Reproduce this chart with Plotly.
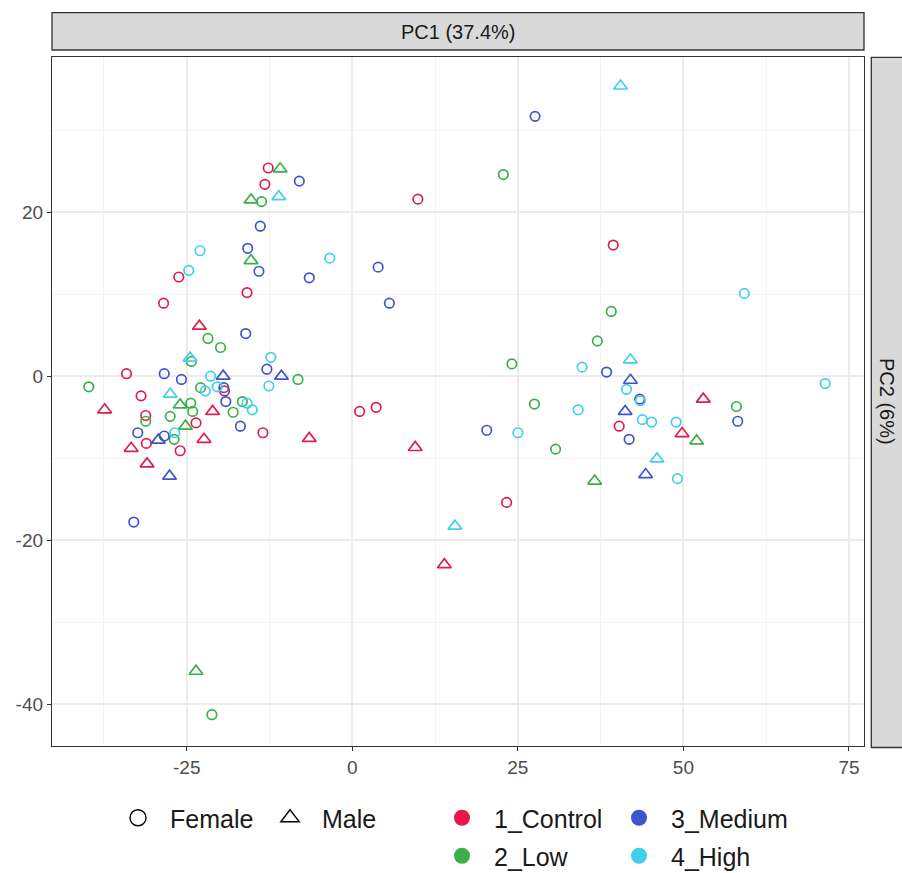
import plotly.graph_objects as go

# ---------------- data (PC1, PC2) ----------------
groups = ["1_Control", "2_Low", "3_Medium", "4_High"]
colors = ["#DC1E4E", "#3BAF49", "#3D55C8", "#3FCFEF"]
sexes = ["Female", "Male"]

control_f_x = [-12.7, -13.2, -15.9, -26.2, -28.5, -34.1, -19.3, -31.9, -31.2, -23.6, -13.5, -31.1, -26.0, 1.1, 3.6, 9.9, 39.4, 40.3, 23.3]
control_f_y = [25.4, 23.4, 10.2, 12.1, 8.9, 0.3, -1.8, -2.4, -4.8, -5.7, -6.9, -8.2, -9.1, -4.3, -3.8, 21.6, 16.0, -6.1, -15.4]
control_m_x = [-23.1, -21.1, -37.4, -22.4, -33.4, -31.0, -6.5, 9.5, 13.9, 53.0, 49.8]
control_m_y = [6.1, -4.3, -4.1, -7.7, -8.8, -10.7, -7.6, -8.7, -23.0, -2.8, -7.0]

low_f_x = [-13.7, -21.8, -19.9, -24.3, -8.2, -39.8, -22.9, -24.4, -24.1, -16.6, -18.0, -31.2, -27.5, -26.9, -21.2, 22.8, 39.1, 37.0, 24.1, 27.5, 30.7, 58.0]
low_f_y = [21.3, 4.6, 3.5, 1.8, -0.4, -1.3, -1.4, -3.3, -4.3, -3.1, -4.4, -5.5, -4.9, -7.7, -41.3, 24.6, 7.9, 4.3, 1.5, -3.4, -8.9, -3.7]
low_m_x = [-10.9, -15.3, -15.3, -26.0, -25.2, -23.6, 36.6, 52.0]
low_m_y = [25.3, 21.5, 14.1, -3.5, -6.1, -36.0, -12.8, -7.9]

medium_f_x = [-8.0, -13.9, -15.8, -14.1, -6.5, 3.9, 5.6, -16.1, -12.9, -28.4, -25.8, -19.4, -19.1, -16.9, -32.4, -28.4, -33.0, 27.6, 20.3, 38.4, 43.4, 41.8, 58.2]
medium_f_y = [23.8, 18.3, 15.6, 12.8, 12.0, 13.3, 8.9, 5.2, 0.85, 0.3, -0.4, -1.4, -3.1, -6.1, -6.9, -7.3, -17.8, 31.7, -6.6, 0.5, -2.8, -7.7, -5.5]
medium_m_x = [-19.5, -10.7, -29.3, -27.6, 42.0, 41.2, 44.3]
medium_m_y = [0.0, 0.0, -7.8, -12.2, -0.5, -4.3, -12.0]

high_f_x = [-23.0, -24.7, -3.4, -12.3, -21.4, -22.2, -20.4, -12.6, -15.9, -15.1, -26.8, 34.7, 41.4, 43.5, 34.1, 43.8, 45.2, 25.0, 48.9, 49.1, 59.2, 71.4]
high_f_y = [15.3, 12.9, 14.4, 2.3, 0.0, -1.8, -1.3, -1.2, -3.3, -4.1, -6.9, 1.1, -1.6, -3.0, -4.1, -5.3, -5.6, -6.9, -5.6, -12.5, 10.1, -0.9]
high_m_x = [-11.1, -24.5, -27.5, 42.0, 46.0, 15.5, 40.5]
high_m_y = [21.9, 2.2, -2.2, 2.0, -10.1, -18.3, 35.4]

series = {
    ("1_Control", "Female"): (control_f_x, control_f_y),
    ("1_Control", "Male"): (control_m_x, control_m_y),
    ("2_Low", "Female"): (low_f_x, low_f_y),
    ("2_Low", "Male"): (low_m_x, low_m_y),
    ("3_Medium", "Female"): (medium_f_x, medium_f_y),
    ("3_Medium", "Male"): (medium_m_x, medium_m_y),
    ("4_High", "Female"): (high_f_x, high_f_y),
    ("4_High", "Male"): (high_m_x, high_m_y),
}

x_ticks = [-25, 0, 25, 50, 75]
y_ticks = [-40, -20, 0, 20]
strip_x = "PC1 (37.4%)"
strip_y = "PC2 (6%)"

# ---------------- figure ----------------
FONT = "Liberation Sans, Arial, sans-serif"
W, H = 902, 873
ML, MR, MT, MB = 52, 38, 57, 127
PW, PH = W - ML - MR, H - MT - MB

def px_x(p):
    return (p - ML) / PW

def px_y(p):
    return (H - MB - p) / PH

fig = go.Figure()
symbols = {"Female": "circle-open", "Male": "triangle-up-open"}
sizes = {"Female": 9.5, "Male": 12}

for g, c in zip(groups, colors):
    for s in sexes:
        xs, ys = series[(g, s)]
        fig.add_trace(go.Scatter(
            x=xs, y=ys, mode="markers", showlegend=False,
            marker=dict(symbol=symbols[s], size=sizes[s], color=c,
                        line=dict(width=1.7, color=c)),
            name=f"{g} {s}", hoverinfo="x+y+name"))

# legend entries (one legend per entry for precise placement)
key_pos = {"Female": (138, 818), "Male": (290, 818),
           "1_Control": (462, 818), "3_Medium": (639, 818),
           "2_Low": (462, 856), "4_High": (639, 856)}
entries = [("Female", dict(symbol="circle-open", color="black", size=16, line=dict(width=1.4, color="black"))),
           ("Male", dict(symbol="triangle-up-open", color="black", size=16, line=dict(width=1.4, color="black")))]
legend_colors = ["#E8174A", "#3DAE4A", "#3F55CC", "#41CFF0"]
for g, c in zip(groups, legend_colors):
    entries.append((g, dict(symbol="circle", color=c, size=16, line=dict(width=0))))

ITEMW = 54
CENTER = (ITEMW + 10) / 2
legend_layout = {}
for i, (name, mk) in enumerate(entries):
    lname = "legend" if i == 0 else f"legend{i + 1}"
    fig.add_trace(go.Scatter(x=[None], y=[None], mode="markers", name=name,
                             marker=mk, legend=lname, showlegend=True))
    kx, ky = key_pos[name]
    legend_layout[lname] = dict(
        x=px_x(kx - CENTER), y=px_y(ky), xanchor="left", yanchor="middle",
        bgcolor="rgba(0,0,0,0)", borderwidth=0, itemwidth=ITEMW,
        font=dict(family=FONT, size=25, color="#1A1A1A"),
        itemclick=False, itemdoubleclick=False, tracegroupgap=0)

grid_major = "#EBEBEB"
grid_minor = "#F4F4F4"

fig.update_layout(
    width=W, height=H,
    margin=dict(l=ML, r=MR, t=MT, b=MB, autoexpand=False),
    paper_bgcolor="white", plot_bgcolor="white",
    font=dict(family=FONT, color="#4D4D4D"),
    xaxis=dict(range=[-45.35, 77.27], tickvals=x_ticks, ticktext=[str(v) for v in x_ticks],
               showgrid=True, gridcolor=grid_major, gridwidth=1.6,
               minor=dict(dtick=12.5, tick0=0, showgrid=True, gridcolor=grid_minor, gridwidth=1.0, ticks=""),
               zeroline=False, showline=True, linecolor="#333333", linewidth=1.3, mirror=True,
               ticks="outside", ticklen=4, tickwidth=1.3, tickcolor="#333333",
               tickfont=dict(family=FONT, size=19, color="#4D4D4D"), automargin=False),
    yaxis=dict(range=[-45.12, 38.94], tickvals=y_ticks, ticktext=[str(v) for v in y_ticks],
               showgrid=True, gridcolor=grid_major, gridwidth=1.6,
               minor=dict(dtick=10, tick0=0, showgrid=True, gridcolor=grid_minor, gridwidth=1.0, ticks=""),
               zeroline=False, showline=True, linecolor="#333333", linewidth=1.3, mirror=True,
               ticks="outside", ticklen=4, tickwidth=1.3, tickcolor="#333333",
               tickfont=dict(family=FONT, size=19, color="#4D4D4D"), automargin=False),
    **legend_layout,
)

# facet strips
fig.add_shape(type="rect", xref="paper", yref="paper",
              x0=px_x(52), x1=px_x(864), y0=px_y(50), y1=px_y(12.7),
              fillcolor="#D9D9D9", line=dict(color="#333333", width=1.3), layer="above")
fig.add_shape(type="rect", xref="paper", yref="paper",
              x0=px_x(871.3), x1=px_x(910), y0=px_y(747.5), y1=px_y(57.3),
              fillcolor="#D9D9D9", line=dict(color="#333333", width=1.3), layer="above")
fig.add_annotation(xref="paper", yref="paper", x=0.5, y=px_y(31.5), text=strip_x,
                   showarrow=False, font=dict(family=FONT, size=20, color="#1A1A1A"),
                   xanchor="center", yanchor="middle")
fig.add_annotation(xref="paper", yref="paper", x=px_x(887), y=px_y(401), text=strip_y,
                   showarrow=False, textangle=90, font=dict(family=FONT, size=20, color="#1A1A1A"),
                   xanchor="center", yanchor="middle")

fig.write_html("out.html")
